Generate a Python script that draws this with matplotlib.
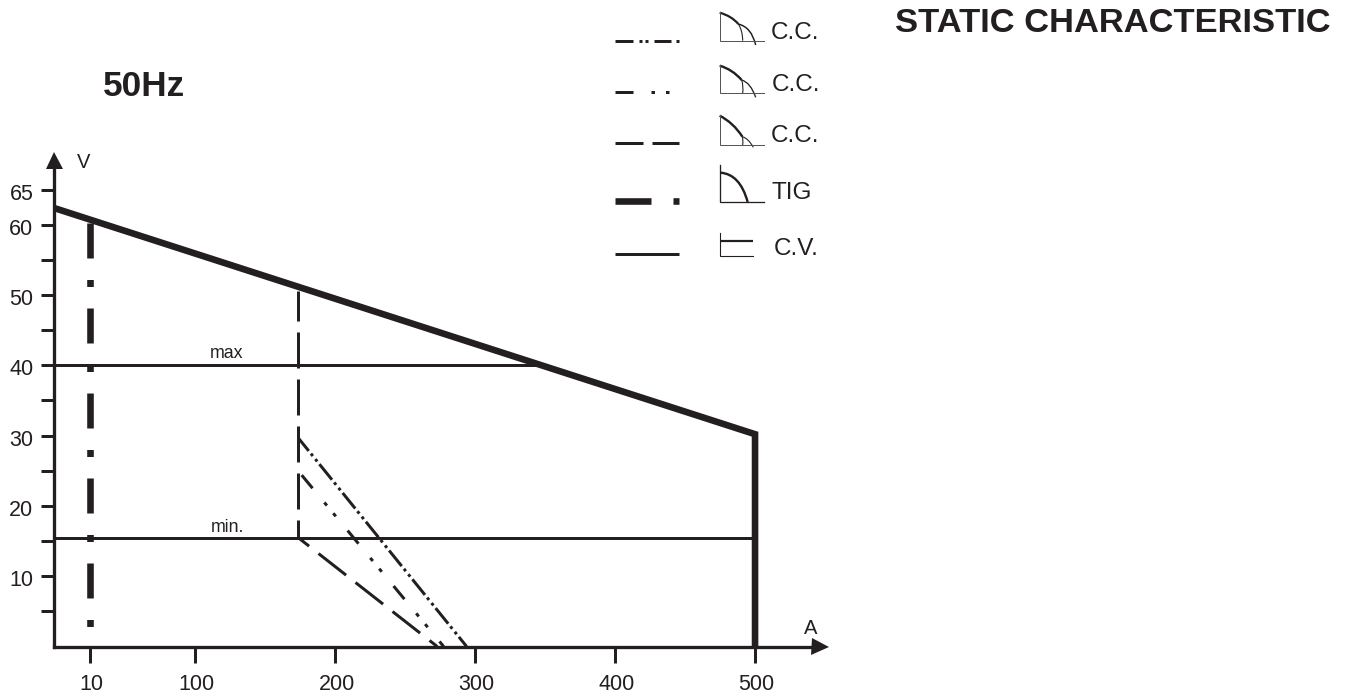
import numpy as np
import matplotlib
matplotlib.use("Agg")
import matplotlib.pyplot as plt
from matplotlib.path import Path
from matplotlib.patches import PathPatch
from matplotlib.transforms import ScaledTranslation

plt.rcParams['font.family'] = ['Liberation Sans', 'DejaVu Sans']
plt.rcParams['lines.scale_dashes'] = False

INK = '#231f20'

# ---- data (A, V) ----
x_ticks = [10, 100, 200, 300, 400, 500]
x_tick_labels = ['10', '100', '200', '300', '400', '500']
y_ticks = [10, 20, 30, 40, 50, 60, 65]
y_tick_labels = ['10', '20', '30', '40', '50', '60', '65']
y_minor_ticks = [5, 15, 25, 35, 45, 55]

x_left = -21.3
x_right = 546.4

limit_a = [x_left, 500, 500]
limit_v = [62.4, 30.2, 0]
tig_a = [10, 10]
tig_v = [60.3, 2.7]
cv_max_a = [x_left, 343]
cv_max_v = [40, 40]
cv_min_a = [x_left, 500]
cv_min_v = [15.5, 15.5]
cc_drop_a = [173.6, 173.6]
cc_drop_v = [50.5, 15.5]
cc1_a = [173.6, 273]
cc1_v = [15.5, 0]
cc2_a = [173.6, 277.6]
cc2_v = [25, 0]
cc3_a = [173.6, 294]
cc3_v = [29.7, 0]


def px(n):
    return n * 72 / 100


def dashes(offset, *pattern):
    return (px(offset), tuple(px(p) for p in pattern))


# the A axis is squeezed between 10 and 100
scale_a = [-1000, 10, 100, 1000]
scale_pos = [25 - 1010 * 75 / 90, 25, 100, 1000]


def forward(a):
    return np.interp(a, scale_a, scale_pos)


def inverse(p):
    return np.interp(p, scale_pos, scale_a)


fig = plt.figure(figsize=(13.47, 6.95), dpi=100)
ax = fig.add_axes([53.5 / 1347, (695 - 646.5) / 695, (820 - 53.5) / 1347, (646.5 - 160) / 695])
ax.set_xscale('function', functions=(forward, inverse))
ax.set_xlim(x_left, x_right)
ax.set_ylim(0, (646.5 - 160) / 7.03)

ax.spines['top'].set_visible(False)
ax.spines['right'].set_visible(False)
for s in ['left', 'bottom']:
    ax.spines[s].set_linewidth(px(3.3))
    ax.spines[s].set_color(INK)

ax.set_xticks(x_ticks)
ax.set_xticklabels(x_tick_labels)
ax.set_yticks(y_ticks)
ax.set_yticklabels(y_tick_labels)
ax.set_xticks([], minor=True)
ax.set_yticks(y_minor_ticks, minor=True)
ax.tick_params(axis='x', which='major', length=px(16), width=px(3), color=INK, labelcolor=INK,
               labelsize=15.5, pad=px(11))
ax.tick_params(axis='y', which='both', length=px(13), width=px(3), color=INK, labelcolor=INK,
               labelsize=15.5, pad=px(7))
for lab in ax.get_yticklabels():
    lab.set_transform(lab.get_transform() + ScaledTranslation(0, -2 / 100, fig.dpi_scale_trans))
for lab in ax.get_xticklabels():
    lab.set_transform(lab.get_transform() + ScaledTranslation(1.5 / 100, 0, fig.dpi_scale_trans))

# arrow heads on the axes
ax.plot(0, 1, '^', color=INK, ms=px(17), mew=0, transform=ax.transAxes, clip_on=False, zorder=6)
ax.plot(1, 0, '>', color=INK, ms=px(17), mew=0, transform=ax.transAxes, clip_on=False, zorder=6)

# curves
ax.plot(tig_a, tig_v, color=INK, lw=px(6.6), ls=dashes(0, 35, 21.5, 7, 21.5), dash_capstyle='butt', zorder=2)
ax.plot(cv_max_a, cv_max_v, color=INK, lw=px(3), zorder=3)
ax.plot(cv_min_a, cv_min_v, color=INK, lw=px(3), zorder=3)
ax.plot(cc_drop_a, cc_drop_v, color=INK, lw=px(3), ls=dashes(6, 36, 11), dash_capstyle='butt', zorder=3)
ax.plot(cc1_a, cc1_v, color=INK, lw=px(3), ls=dashes(21, 35, 12), dash_capstyle='butt', zorder=3)
ax.plot(cc2_a, cc2_v, color=INK, lw=px(3), ls=dashes(66.3, 17, 18.5, 4, 10, 4, 18.5), dash_capstyle='butt', zorder=3)
ax.plot(cc3_a, cc3_v, color=INK, lw=px(3), ls=dashes(3, 20, 3.5, 3, 4, 3, 3.5), dash_capstyle='butt', zorder=3)
ax.plot(limit_a, limit_v, color=INK, lw=px(6.6), solid_joinstyle='miter', solid_capstyle='butt', zorder=4)

# ---- overlay in picture pixels for titles, key and little icons ----
over = fig.add_axes([0, 0, 1, 1])
over.set_xlim(0, 1347)
over.set_ylim(695, 0)
over.axis('off')
over.patch.set_alpha(0)

over.text(144, 87, '50Hz', fontsize=25.3, fontweight='bold', color=INK, ha='center', va='center')
over.text(1113, 24, 'STATIC CHARACTERISTIC', fontsize=24.8, fontweight='bold', color=INK, ha='center', va='center')
over.text(84, 163, 'V', fontsize=14.5, color=INK, ha='center', va='center')
over.text(811, 628, 'A', fontsize=14.5, color=INK, ha='center', va='center')
over.text(227, 354, 'max', fontsize=12.8, color=INK, ha='center', va='center')
over.text(227, 527, 'min.', fontsize=12.8, color=INK, ha='center', va='center')

key_labels = [('C.C.', 771, 33), ('C.C.', 772, 85), ('C.C.', 771, 136), ('TIG', 772, 193), ('C.V.', 774, 249)]
for txt, x, y in key_labels:
    over.text(x, y, txt, fontsize=17.5, color=INK, ha='left', va='center')

key_styles = [
    (40.5, 3, dashes(0, 18, 6, 3, 3, 3, 6, 17, 5, 3, 100)),
    (92, 3, dashes(0, 18, 18, 3.5, 11, 3.5, 100)),
    (143, 3, dashes(0, 28, 9, 27, 100)),
    (201, 6.6, dashes(0, 36, 22, 6, 100)),
    (254, 3, '-'),
]
for y, w, style in key_styles:
    over.plot([615, 679], [y, y], color=INK, lw=px(w), ls=style, dash_capstyle='butt', solid_capstyle='butt')


def zx(x):
    return 600 + x / 3


def zy(y):
    return y / 3


def icon_axes(x0, y0, y1, x1, w=1.0, col='#555555'):
    over.plot([zx(x0), zx(x0), zx(x1)], [zy(y0), zy(y1), zy(y1)], color=col, lw=px(w), solid_joinstyle='miter')


def arc(p0, c, p1, w):
    verts = [(zx(p0[0]), zy(p0[1])), (zx(c[0]), zy(c[1])), (zx(p1[0]), zy(p1[1]))]
    over.add_patch(PathPatch(Path(verts, [Path.MOVETO, Path.CURVE3, Path.CURVE3]), fc='none', ec=INK, lw=px(w)))


icon_axes(359, 35, 122, 493)
arc((359, 38), (395, 48), (415, 72), 2.2)
arc((415, 72), (428, 92), (428, 122), 1.1)
arc((415, 72), (455, 82), (467, 135), 1.5)

icon_axes(359, 195, 280, 493)
arc((359, 197), (397, 208), (425, 240), 2.4)
arc((425, 240), (431, 258), (428, 280), 1.1)
arc((425, 240), (452, 248), (467, 292), 1.3)

icon_axes(359, 345, 435, 493)
arc((359, 347), (400, 368), (427, 410), 2.4)
arc((427, 410), (430, 420), (428, 435), 1.1)
arc((427, 410), (445, 415), (460, 442), 1.1)

icon_axes(361, 495, 606, 493, w=1.3, col=INK)
arc((361, 518), (420, 522), (443, 606), 2.4)

icon_axes(359, 700, 768, 460, w=1.1, col=INK)
over.plot([zx(359), zx(460)], [zy(724), zy(724)], color=INK, lw=px(2.2), solid_capstyle='butt')

fig.savefig('out.png', dpi=100, facecolor='white')
